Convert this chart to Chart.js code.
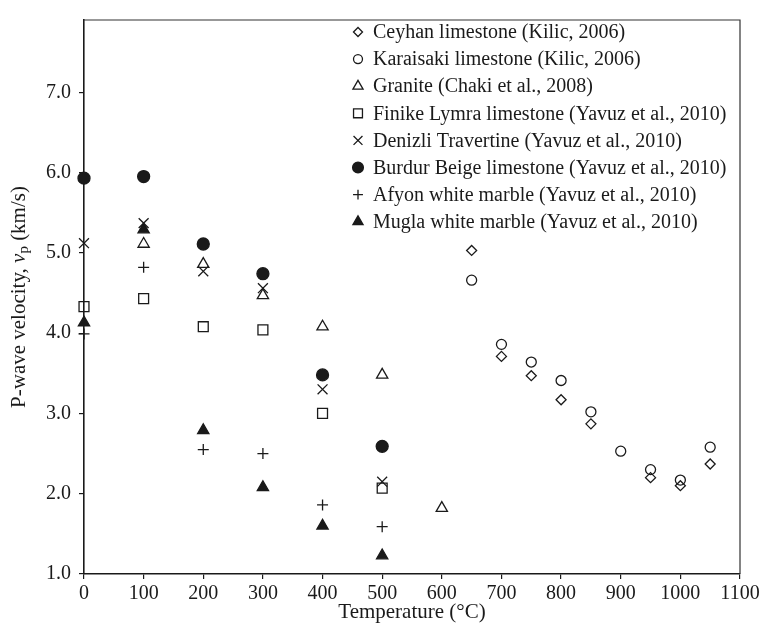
<!DOCTYPE html>
<html>
<head>
<meta charset="utf-8">
<title>P-wave velocity vs temperature</title>
<script src="https://cdn.jsdelivr.net/npm/chart.js@4.4.1/dist/chart.umd.min.js"></script>
<style>
    html, body { margin: 0; padding: 0; background: #fff; }
    #wrap { width: 764px; height: 632px; }
</style>
</head>
<body>
<div id="wrap"><canvas id="myChart" width="764" height="632"></canvas></div>
<script>
// temperatures (°C) used by the Yavuz et al. series
const yavuzTemps = [0, 100, 200, 300, 400, 500];

const ceyhanTemps = [650, 700, 750, 800, 850, 950, 1000, 1050];
const ceyhanVp = [5.03, 3.71, 3.47, 3.17, 2.87, 2.20, 2.10, 2.37];

const karaisakiTemps = [650, 700, 750, 800, 850, 900, 950, 1000, 1050];
const karaisakiVp = [4.66, 3.86, 3.64, 3.41, 3.02, 2.53, 2.30, 2.17, 2.58];

const graniteTemps = [100, 200, 300, 400, 500, 600];
const graniteVp = [5.11, 4.86, 4.47, 4.08, 3.48, 1.82];

const finikeVp = [4.33, 4.43, 4.08, 4.04, 3.00, 2.07];
const denizliVp = [5.12, 5.37, 4.77, 4.56, 3.30, 2.15];
const burdurVp = [5.93, 5.95, 5.11, 4.74, 3.48, 2.59];
const afyonVp = [3.99, 4.82, 2.55, 2.50, 1.86, 1.59];
const muglaVp = [4.13, 5.29, 2.79, 2.08, 1.60, 1.23];

const xTicks = [0, 100, 200, 300, 400, 500, 600, 700, 800, 900, 1000, 1100];
const yTicks = [1, 2, 3, 4, 5, 6, 7];

const xTitle = 'Temperature (°C)';

const INK = '#1a1a1a';
const SERIF = '"Liberation Serif", "Times New Roman", serif';

function pts(xs, ys) {
    return xs.map((x, i) => ({ x: x, y: ys[i] }));
}

function series(label, xs, ys, style, radius, filled) {
    return {
        label: label,
        data: pts(xs, ys),
        pointStyle: style,
        pointRadius: radius,
        pointHoverRadius: radius,
        pointBorderWidth: 1.3,
        borderColor: INK,
        backgroundColor: filled ? INK : 'rgba(0,0,0,0)',
        showLine: false,
        clip: false   // markers sitting on the y axis stay whole
    };
}

const datasets = [
    series('Ceyhan limestone (Kilic, 2006)', ceyhanTemps, ceyhanVp, 'rectRot', 5, false),
    series('Karaisaki limestone (Kilic, 2006)', karaisakiTemps, karaisakiVp, 'circle', 5, false),
    series('Granite (Chaki et al., 2008)', graniteTemps, graniteVp, 'triangle', 6.5, false),
    series('Finike Lymra limestone (Yavuz et al., 2010)', yavuzTemps, finikeVp, 'rect', 7, false),
    series('Denizli Travertine (Yavuz et al., 2010)', yavuzTemps, denizliVp, 'crossRot', 7, false),
    series('Burdur Beige limestone (Yavuz et al., 2010)', yavuzTemps, burdurVp, 'circle', 6, true),
    series('Afyon white marble (Yavuz et al., 2010)', yavuzTemps, afyonVp, 'cross', 5.5, false),
    series('Mugla white marble (Yavuz et al., 2010)', yavuzTemps, muglaVp, 'triangle', 6.5, true)
];

// frame on top/right, axis titles and the in-plot legend
const frameAndText = {
    id: 'frameAndText',
    afterDraw(chart) {
        const ctx = chart.ctx;
        const a = chart.chartArea;
        ctx.save();

        ctx.strokeStyle = '#333';
        ctx.lineWidth = 1.2;
        ctx.beginPath();
        ctx.moveTo(a.left, a.top);
        ctx.lineTo(a.right, a.top);
        ctx.lineTo(a.right, a.bottom);
        ctx.stroke();

        ctx.fillStyle = INK;
        ctx.font = '21px ' + SERIF;
        ctx.textAlign = 'center';
        ctx.textBaseline = 'middle';
        ctx.fillText(xTitle, (a.left + a.right) / 2, 612);

        // y title: "P-wave velocity, v_p (km/s)"
        const parts = [
            { t: 'P-wave velocity, ', f: '21px ' + SERIF, dy: 0 },
            { t: 'v', f: 'italic 21px ' + SERIF, dy: 0 },
            { t: 'p', f: '15px ' + SERIF, dy: 5 },
            { t: ' (km/s)', f: '21px ' + SERIF, dy: 0 }
        ];
        let total = 0;
        parts.forEach(p => { ctx.font = p.f; p.w = ctx.measureText(p.t).width; total += p.w; });
        ctx.translate(19, (a.top + a.bottom) / 2);
        ctx.rotate(-Math.PI / 2);
        ctx.textAlign = 'left';
        let cx = -total / 2;
        parts.forEach(p => {
            ctx.font = p.f;
            ctx.fillText(p.t, cx, p.dy);
            cx += p.w;
        });
        ctx.setTransform(1, 0, 0, 1, 0, 0);

        // legend
        const lx = 358, tx = 373, ly0 = 32, step = 27.1;
        ctx.font = '20px ' + SERIF;
        ctx.textAlign = 'left';
        ctx.textBaseline = 'middle';
        chart.data.datasets.forEach((ds, i) => {
            const y = ly0 + i * step;
            ctx.fillStyle = ds.backgroundColor;
            ctx.strokeStyle = ds.borderColor;
            ctx.lineWidth = ds.pointBorderWidth;
            Chart.helpers.drawPoint(ctx, {
                pointStyle: ds.pointStyle,
                radius: ds.pointRadius * 0.9,
                rotation: 0,
                borderWidth: ds.pointBorderWidth
            }, lx, y);
            ctx.fillStyle = INK;
            ctx.fillText(ds.label, tx, y + 1);
        });
        ctx.restore();
    }
};

function createChart() {
    const ctx = document.getElementById('myChart').getContext('2d');
    return new Chart(ctx, {
        type: 'scatter',
        data: { datasets: datasets },
        plugins: [frameAndText],
        options: {
            responsive: false,
            animation: false,
            devicePixelRatio: 1,
            layout: { padding: { top: 13, right: 24, left: 0, bottom: 0 } },
            plugins: {
                legend: { display: false },
                tooltip: { enabled: false }
            },
            scales: {
                x: {
                    type: 'linear',
                    min: 0,
                    max: 1100,
                    afterBuildTicks: s => { s.ticks = xTicks.map(v => ({ value: v })); },
                    afterFit: s => { s.height = 58; },
                    border: { color: INK, width: 1.6 },
                    grid: { drawOnChartArea: false, drawTicks: true, tickLength: 5, color: INK, lineWidth: 1.2 },
                    ticks: {
                        color: INK,
                        font: { family: SERIF, size: 20 },
                        padding: 3,
                        maxRotation: 0,
                        callback: v => String(v)
                    }
                },
                y: {
                    type: 'linear',
                    min: 1,
                    max: 7.9,
                    afterBuildTicks: s => { s.ticks = yTicks.map(v => ({ value: v })); },
                    afterFit: s => { s.width = 84; },
                    border: { color: INK, width: 1.6 },
                    grid: { drawOnChartArea: false, drawTicks: true, tickLength: 5, color: INK, lineWidth: 1.2 },
                    ticks: {
                        color: INK,
                        font: { family: SERIF, size: 20 },
                        padding: 8,
                        callback: v => Number(v).toFixed(1)
                    }
                }
            }
        }
    });
}

document.addEventListener('DOMContentLoaded', function () {
    createChart();
});
</script>
</body>
</html>
